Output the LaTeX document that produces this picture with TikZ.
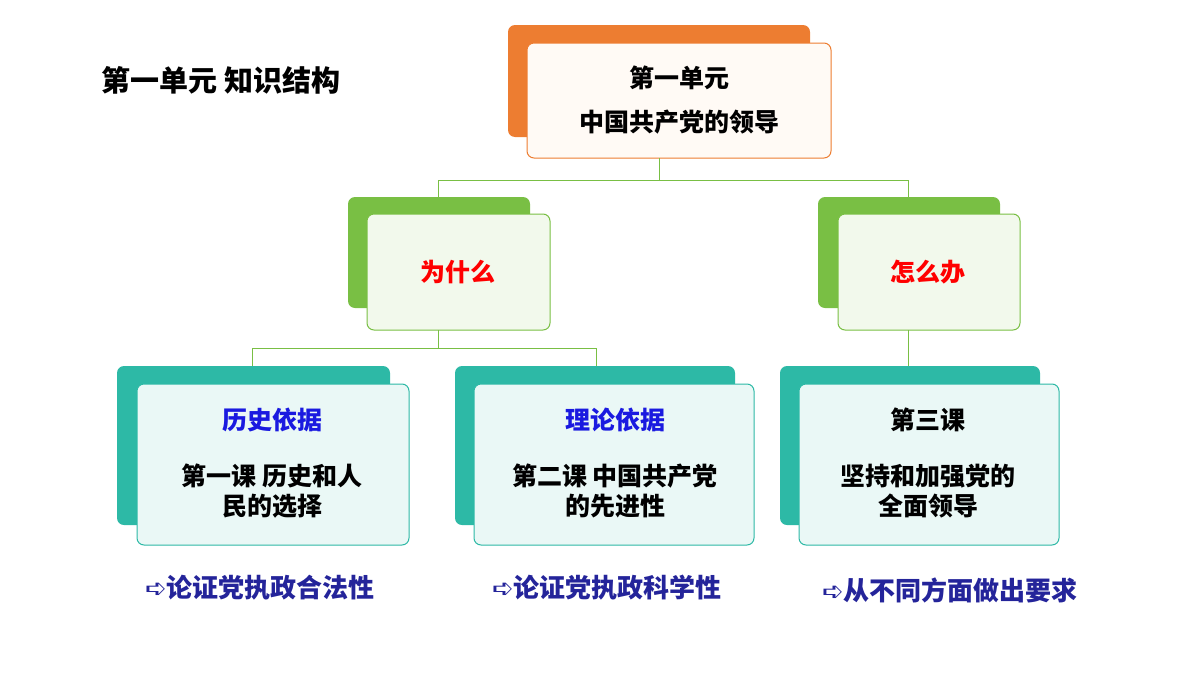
\documentclass[tikz,border=0pt]{standalone}
\usepackage{fontspec}
\newfontfamily\cjk{Noto Sans CJK SC}
\newfontfamily\dejavu{DejaVu Sans}
\definecolor{unitorange}{HTML}{ED7D31}
\definecolor{qgreen}{HTML}{79BF44}
\definecolor{lessonteal}{HTML}{2DB9A6}
\definecolor{keyblue}{HTML}{1A1AE0}
\definecolor{notenavy}{HTML}{24249A}
\tikzset{
  back/.style={rounded corners=7pt},
  front/.style={rounded corners=7pt, line width=1pt},
  txt/.style={font=\cjk\bfseries\fontsize{25}{30}\selectfont, align=center},
  note/.style={font=\cjk\bfseries\fontsize{26}{30}\selectfont, text=notenavy},
  link/.style={qgreen, line width=1pt}
}
\begin{document}
\begin{tikzpicture}[x=1pt,y=-1pt]
\useasboundingbox (0,0) rectangle (1200,675);
% title
\node[txt, font=\cjk\bfseries\fontsize{29}{34}\selectfont] (title) at (221,80) {第一单元\ 知识结构};
% unit box
\fill[back, unitorange] (508,25) rectangle (810,137);
\draw[front, unitorange, fill=orange!4] (527,43) rectangle (831,158);
\node[txt] (unit) at (679,100) {第一单元\\[14pt]中国共产党的领导};
% why / how
\fill[back, qgreen] (348,197) rectangle (530,308);
\draw[front, qgreen, fill=qgreen!10] (367,214) rectangle (550,330);
\node[txt, text=red] (why) at (458,272) {为什么};
\fill[back, qgreen] (818,197) rectangle (1000,308);
\draw[front, qgreen, fill=qgreen!10] (838,214) rectangle (1020,330);
\node[txt, text=red] (how) at (928,272) {怎么办};
% lessons
\fill[back, lessonteal] (117,366) rectangle (390,525);
\draw[front, lessonteal, fill=lessonteal!10] (137,384) rectangle (409,545);
\node[txt, text=keyblue] (hist) at (272,420) {历史依据};
\node[txt] (les1) at (272,491) {第一课\ 历史和人\\民的选择};
\fill[back, lessonteal] (455,366) rectangle (735,525);
\draw[front, lessonteal, fill=lessonteal!10] (474,384) rectangle (754,545);
\node[txt, text=keyblue] (theo) at (615,420) {理论依据};
\node[txt] (les2) at (615,491) {第二课\ 中国共产党\\的先进性};
\fill[back, lessonteal] (780,366) rectangle (1040,525);
\draw[front, lessonteal, fill=lessonteal!10] (799,384) rectangle (1059,545);
\node[txt] (les3a) at (928,420) {第三课};
\node[txt] (les3) at (928,491) {坚持和加强党的\\全面领导};
% links
\coordinate (u) at (659,158);
\coordinate (w) at (438,197);
\coordinate (h) at (908,197);
\draw[link] (u) -- (659,180) -| (w);
\draw[link] (659,180) -| (h);
\coordinate (wb) at (438,330);
\draw[link] (wb) -- (438,348) -| (252,366);
\draw[link] (438,348) -| (596,366);
\draw[link] (908,330) -- (908,366);
% notes
\node[note] (n1) at (260,588) {{\dejavu ➪}论证党执政合法性};
\node[note] (n2) at (607,588) {{\dejavu ➪}论证党执政科学性};
\node[note] (n3) at (950,590) {{\dejavu ➪}从不同方面做出要求};
\end{tikzpicture}
\end{document}
